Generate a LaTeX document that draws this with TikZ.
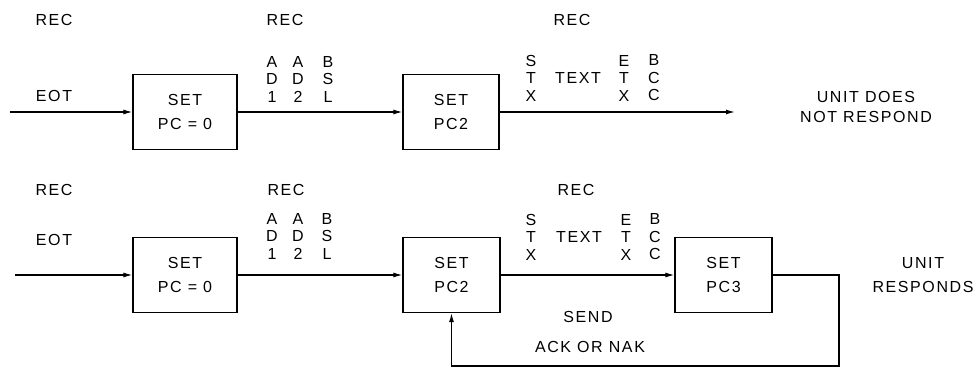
\documentclass[tikz,border=0pt]{standalone}
\usepackage{fontspec}
\setmainfont{Liberation Sans}[LetterSpace=10]
\usetikzlibrary{arrows.meta}
\begin{document}
\begin{tikzpicture}[x=1pt,y=-1pt,
  box/.style={draw,line width=1.3pt,minimum height=75pt,inner sep=0pt,align=center,font=\fontsize{16}{24}\selectfont},
  lbl/.style={inner sep=0pt,align=center,font=\fontsize{16}{17.5}\selectfont},
  ln/.style={line width=1.2pt},
  arr/.style={ln,-{Latex[length=9pt,width=5pt]}}]
\useasboundingbox (0,0) rectangle (975,369);
% top row
\node[lbl] (r1) at (54,20) {REC};
\node[lbl] (r2) at (285,20) {REC};
\node[lbl] (r3) at (572,20) {REC};
\node[lbl] (eot1) at (54,96) {EOT};
\node[lbl] (a1) at (272,79) {A\\D\\1};
\node[lbl] (a2) at (298,79) {A\\D\\2};
\node[lbl] (a3) at (328,79) {B\\S\\L};
\node[lbl] (t1) at (531,78) {S\\T\\X};
\node[lbl] (t2) at (578,78) {TEXT};
\node[lbl] (t3) at (624,78) {E\\T\\X};
\node[lbl] (t4) at (654,78) {B\\C\\C};
\node[lbl,font=\fontsize{16}{20}\selectfont] (nr) at (866,107) {UNIT DOES\\NOT RESPOND};
\node[box,minimum width=104pt] (b1) at (185,112) {SET\\PC = 0};
\node[box,minimum width=96pt] (b2) at (451,112) {SET\\PC2};
\coordinate (s1) at (10,112);
\coordinate (e1) at (735,112);
\draw[arr] (s1) -- (b1.west);
\draw[arr] (b1.east) -- (b2.west);
\draw[arr] (b2.east) -- (e1);
% bottom row
\node[lbl] (r4) at (54,190) {REC};
\node[lbl] (r5) at (286,190) {REC};
\node[lbl] (r6) at (576,190) {REC};
\node[lbl] (eot2) at (54,240) {EOT};
\node[lbl] (a4) at (272,236) {A\\D\\1};
\node[lbl] (a5) at (298,236) {A\\D\\2};
\node[lbl] (a6) at (327,236) {B\\S\\L};
\node[lbl] (t5) at (531,237) {S\\T\\X};
\node[lbl] (t6) at (579,237) {TEXT};
\node[lbl] (t7) at (626,237) {E\\T\\X};
\node[lbl] (t8) at (655,237) {B\\C\\C};
\node[lbl,font=\fontsize{16}{24}\selectfont] (ur) at (923,275) {UNIT\\RESPONDS};
\node[lbl] (send) at (588,317) {SEND};
\node[lbl] (ack) at (590,347) {ACK OR NAK};
\node[box,minimum width=104pt] (b3) at (185,275) {SET\\PC = 0};
\node[box,minimum width=97pt] (b4) at (451.5,275) {SET\\PC2};
\node[box,minimum width=97pt] (b5) at (723.5,275) {SET\\PC3};
\coordinate (s2) at (15,275);
\coordinate (fb) at (839,366);
\draw[arr] (s2) -- (b3.west);
\draw[arr] (b3.east) -- (b4.west);
\draw[arr] (b4.east) -- (b5.west);
\draw[arr] (b5.east) -| (fb) -| (b4.south);
\end{tikzpicture}
\end{document}
